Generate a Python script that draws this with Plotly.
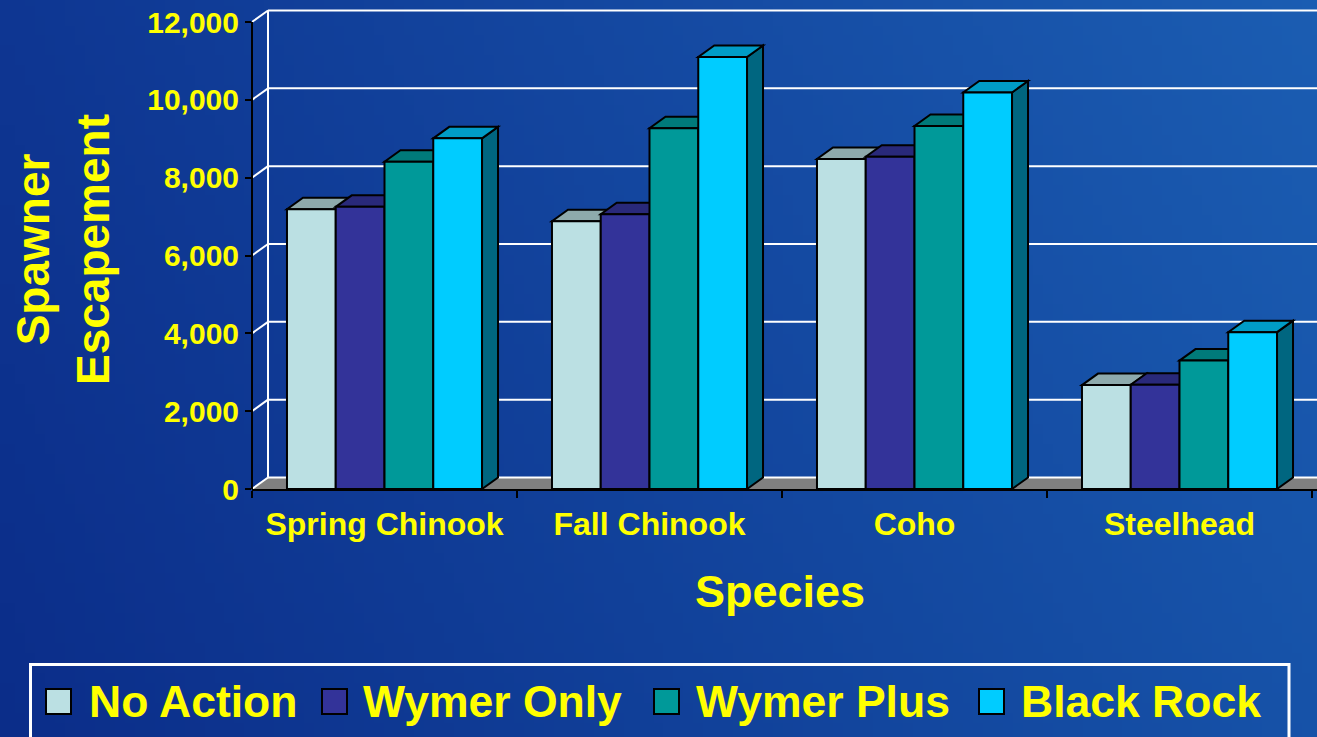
import base64
import struct
import zlib

import plotly.graph_objects as go

# ---------------------------------------------------------------- data
species = ["Spring Chinook", "Fall Chinook", "Coho", "Steelhead"]
series_names = ["No Action", "Wymer Only", "Wymer Plus", "Black Rock"]
no_action = [7190, 6880, 8480, 2670]
wymer_only = [7250, 7060, 8540, 2680]
wymer_plus = [8410, 9270, 9330, 3300]
black_rock = [9010, 11100, 10190, 4030]
tick_values = [0, 2000, 4000, 6000, 8000, 10000, 12000]
tick_labels = ["0", "2,000", "4,000", "6,000", "8,000", "10,000", "12,000"]

series_values = [no_action, wymer_only, wymer_plus, black_rock]

# ---------------------------------------------------------------- styling
FRONT = ["#bbe0e3", "#333399", "#009999", "#00ccff"]
TOP = ["#8eaaac", "#29297a", "#007a7a", "#009cc6"]
SIDE = ["#7f9a9c", "#222266", "#006666", "#006680"]
YELLOW = "#ffff00"
FONT = "Liberation Sans, Arial, sans-serif"

W, H = 1317, 737
M_L, M_R, M_T, M_B = 252, 0, 5, 248
PLOT_W = W - M_L - M_R
PLOT_H = H - M_T - M_B
PX_PER_UNIT = 467 / 12000          # vertical pixels per value unit
Y_MAX = PLOT_H / PX_PER_UNIT
CAT_PX = 265                       # pixels per category
X_MIN = -0.5
X_MAX = X_MIN + PLOT_W / CAT_PX

GROUP = 0.736                      # share of a category filled by its bars
BAR_W = GROUP / len(series_names)
DX = 16 / CAT_PX                   # 3-D depth offset (category units)
DY = 11.5 / PX_PER_UNIT            # 3-D depth offset (value units)


def px_x(px):
    return (px - M_L) / PLOT_W


def px_y(py):
    return (H - M_B - py) / PLOT_H


def gradient_png(w, h, tl, tr, bl, br):
    rows = []
    for j in range(h):
        fy = j / (h - 1)
        row = bytearray([0])
        for i in range(w):
            fx = i / (w - 1)
            for c in range(3):
                top = tl[c] * (1 - fx) + tr[c] * fx
                bot = bl[c] * (1 - fx) + br[c] * fx
                row.append(int(round(top * (1 - fy) + bot * fy)))
        rows.append(bytes(row))

    def chunk(tag, data):
        body = tag + data
        return struct.pack(">I", len(data)) + body + struct.pack(">I", zlib.crc32(body) & 0xFFFFFFFF)

    png = (b"\x89PNG\r\n\x1a\n"
           + chunk(b"IHDR", struct.pack(">IIBBBBB", w, h, 8, 2, 0, 0, 0))
           + chunk(b"IDAT", zlib.compress(b"".join(rows), 9))
           + chunk(b"IEND", b""))
    return "data:image/png;base64," + base64.b64encode(png).decode()


def poly(points):
    return "M " + " L ".join(f"{x},{y}" for x, y in points) + " Z"


fig = go.Figure()

# front faces of the columns
for k, (name, vals) in enumerate(zip(series_names, series_values)):
    fig.add_trace(go.Bar(
        x=species, y=vals, name=name,
        width=BAR_W, offset=-GROUP / 2 + k * BAR_W,
        marker=dict(color=FRONT[k], line=dict(color="black", width=2)),
        showlegend=False, hoverinfo="x+y+name",
    ))

shapes = []

# floor
shapes.append(dict(
    type="path", xref="x", yref="y", layer="between",
    path=poly([(X_MIN, 0), (X_MAX + 1, 0), (X_MAX + 1 + DX, DY), (X_MIN + DX, DY)]),
    fillcolor="#808080", line=dict(width=0),
))

# walls: gridlines on the back wall, connectors on the side wall
grid = dict(color="white", width=2)
for t in tick_values:
    shapes.append(dict(type="line", xref="x", yref="y", layer="between",
                       x0=X_MIN, y0=t, x1=X_MIN + DX, y1=t + DY, line=grid))
    shapes.append(dict(type="line", xref="x", yref="y", layer="between",
                       x0=X_MIN + DX, y0=t + DY, x1=X_MAX + 1, y1=t + DY, line=grid))
shapes.append(dict(type="line", xref="x", yref="y", layer="between",
                   x0=X_MIN + DX, y0=DY, x1=X_MIN + DX, y1=tick_values[-1] + DY, line=grid))

# side and top faces of each column, left to right so nearer faces overlap
for i in range(len(species)):
    for k, vals in enumerate(series_values):
        v = vals[i]
        x0 = i - GROUP / 2 + k * BAR_W
        x1 = x0 + BAR_W
        shapes.append(dict(
            type="path", xref="x", yref="y", layer="between",
            path=poly([(x1, 0), (x1, v), (x1 + DX, v + DY), (x1 + DX, DY)]),
            fillcolor=SIDE[k], line=dict(color="black", width=2),
        ))
        shapes.append(dict(
            type="path", xref="x", yref="y", layer="between",
            path=poly([(x0, v), (x1, v), (x1 + DX, v + DY), (x0 + DX, v + DY)]),
            fillcolor=TOP[k], line=dict(color="black", width=2),
        ))

# front value axis line
shapes.append(dict(type="line", xref="paper", yref="y", layer="above",
                   x0=0, x1=0, y0=0, y1=tick_values[-1],
                   line=dict(color="black", width=2)))

# legend box and keys
shapes.append(dict(type="rect", xref="paper", yref="paper", layer="above",
                   x0=px_x(30.5), x1=px_x(1289), y0=px_y(664.5), y1=px_y(760),
                   line=dict(color="white", width=3), fillcolor="rgba(0,0,0,0)"))
key_left = [46, 322, 654, 979]
text_left = [88, 362, 695, 1020]
annotations = []
for k, name in enumerate(series_names):
    shapes.append(dict(type="rect", xref="paper", yref="paper", layer="above",
                       x0=px_x(key_left[k]), x1=px_x(key_left[k] + 25),
                       y0=px_y(689), y1=px_y(714),
                       fillcolor=FRONT[k], line=dict(color="black", width=2)))
    annotations.append(dict(
        text=name, xref="paper", yref="paper", x=px_x(text_left[k]), y=px_y(701),
        xanchor="left", yanchor="middle", showarrow=False, borderpad=0,
        font=dict(family=FONT, size=44.5, color=YELLOW, weight="bold"),
    ))

# axis titles
annotations.append(dict(
    text="Spawner<br>Escapement", textangle=-90,
    xref="paper", yref="paper", x=px_x(63), y=px_y(249),
    xanchor="center", yanchor="middle", showarrow=False,
    font=dict(family=FONT, size=46, color=YELLOW, weight="bold"),
))
annotations.append(dict(
    text="Species", xref="paper", yref="paper", x=px_x(780), y=px_y(591),
    xanchor="center", yanchor="middle", showarrow=False,
    font=dict(family=FONT, size=45, color=YELLOW, weight="bold"),
))

fig.update_layout(
    width=W, height=H,
    margin=dict(l=M_L, r=M_R, t=M_T, b=M_B, autoexpand=False),
    paper_bgcolor="#12449c", plot_bgcolor="rgba(0,0,0,0)",
    barmode="overlay",
    shapes=shapes, annotations=annotations,
    images=[dict(
        source=gradient_png(132, 74, (14, 54, 146), (27, 93, 178), (11, 45, 137), (22, 82, 168)),
        xref="paper", yref="paper", x=px_x(0), y=px_y(0),
        sizex=W / PLOT_W, sizey=H / PLOT_H, sizing="stretch",
        xanchor="left", yanchor="top", layer="below",
    )],
    showlegend=False,
    xaxis=dict(
        type="category", range=[X_MIN, X_MAX], tickson="boundaries",
        ticks="outside", ticklen=7, tickwidth=2, tickcolor="black",
        showline=True, linecolor="black", linewidth=2,
        showgrid=False, zeroline=False, ticklabelstandoff=6,
        tickfont=dict(family=FONT, size=32, color=YELLOW, weight="bold"),
    ),
    yaxis=dict(
        range=[0, Y_MAX], tickmode="array", tickvals=tick_values, ticktext=tick_labels,
        ticks="outside", ticklen=6, tickwidth=2, tickcolor="black",
        showline=False, showgrid=False, zeroline=False,
        tickfont=dict(family=FONT, size=30, color=YELLOW, weight="bold"),
    ),
)

fig.write_html("out.html")
